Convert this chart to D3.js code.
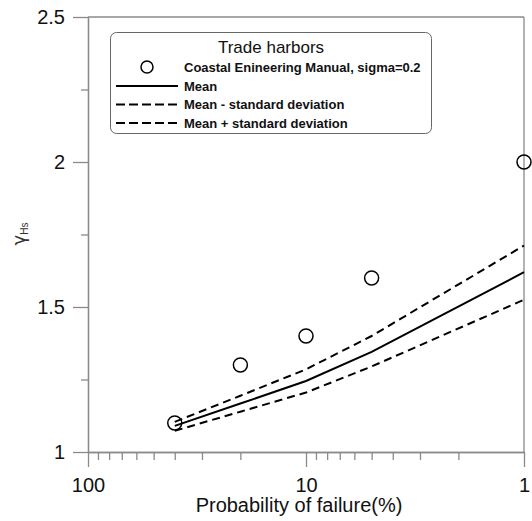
<!DOCTYPE html>
<html><head><meta charset="utf-8">
<script src="https://cdn.jsdelivr.net/npm/d3@7"></script>
<style>
body{margin:0;background:#fff;}
svg{display:block;font-family:"Liberation Sans",Arial,sans-serif;}
</style></head>
<body><svg id="c" width="532" height="521"></svg>
<script>
// Data
const manualProb = [40, 20, 10, 5, 1];
const manualVals = [1.1, 1.3, 1.4, 1.6, 2.0];
const lineProb = [40, 20, 10, 5, 1];
const meanVals = [1.09, 1.167, 1.245, 1.345, 1.62];
const lowerVals = [1.073, 1.139, 1.205, 1.295, 1.525];
const upperVals = [1.104, 1.194, 1.285, 1.40, 1.712];
const xMajor = [100, 10, 1];
const xMinor = [90, 80, 70, 60, 50, 40, 30, 20, 9, 8, 7, 6, 5, 4, 3, 2];
const yMajor = [1, 1.5, 2, 2.5];
const yMinor = [1.25, 1.75, 2.25];
const legendTitle = "Trade harbors";
const legendLabels = ["Coastal Enineering Manual, sigma=0.2", "Mean", "Mean - standard deviation", "Mean + standard deviation"];

const L = 88, R = 524, T = 17, B = 452;
const svg = d3.select("#c");
const x = d3.scaleLog().domain([100, 1]).range([L, R]);
const y = d3.scaleLinear().domain([1, 2.5]).range([B, T]);
const axisCol = "#8a8a8a";

// frame top & right
svg.append("line").attr("x1", L).attr("x2", R).attr("y1", T).attr("y2", T).attr("stroke", axisCol).attr("stroke-width", 1.3);
svg.append("line").attr("x1", R).attr("x2", R).attr("y1", T).attr("y2", B).attr("stroke", axisCol).attr("stroke-width", 1.3);

function styleAxis(g) {
  g.select(".domain").attr("stroke", axisCol).attr("stroke-width", 1.3);
  g.selectAll(".tick line").attr("stroke", axisCol).attr("stroke-width", 1.3);
  g.selectAll("text").attr("fill", "#111").style("font-size", "20px").style("font-family", '"Liberation Sans",Arial,sans-serif');
}

// y axis
const gy = svg.append("g").attr("transform", `translate(${L},0)`)
  .call(d3.axisLeft(y).tickValues(yMajor).tickSize(15).tickPadding(8).tickFormat(d3.format("")).tickSizeOuter(0));
styleAxis(gy);
const gy2 = svg.append("g").attr("transform", `translate(${L},0)`)
  .call(d3.axisLeft(y).tickValues(yMinor).tickSize(7).tickFormat("").tickSizeOuter(0));
styleAxis(gy2);

// x axis
const gx = svg.append("g").attr("transform", `translate(0,${B})`)
  .call(d3.axisBottom(x).tickValues(xMajor).tickSize(15).tickPadding(11).tickFormat(d3.format("")).tickSizeOuter(0));
styleAxis(gx);
const gx2 = svg.append("g").attr("transform", `translate(0,${B})`)
  .call(d3.axisBottom(x).tickValues(xMinor).tickSize(8).tickFormat("").tickSizeOuter(0));
styleAxis(gx2);

// axis titles
svg.append("text").attr("x", 299).attr("y", 512).attr("text-anchor", "middle")
  .style("font-size", "20px").attr("fill", "#111").text("Probability of failure(%)");
const yl = svg.append("text").attr("transform", "translate(25,234) rotate(-90)").attr("text-anchor", "middle").attr("fill", "#333");
yl.append("tspan").style("font-size", "18px").style("font-family", '"DejaVu Sans",sans-serif').text("γ");
yl.append("tspan").style("font-size", "10px").attr("dy", 3).text("Hs");

// lines
const line = d3.line().x(d => x(d[0])).y(d => y(d[1]));
const series = [
  {vals: meanVals, dash: null},
  {vals: lowerVals, dash: "8,5"},
  {vals: upperVals, dash: "8,5"}
];
series.forEach(s => {
  svg.append("path").datum(lineProb.map((p, i) => [p, s.vals[i]]))
    .attr("d", line).attr("fill", "none").attr("stroke", "#000")
    .attr("stroke-width", 2).attr("stroke-dasharray", s.dash);
});

// points
svg.selectAll("circle.pt").data(manualProb.map((p, i) => [p, manualVals[i]])).enter()
  .append("circle").attr("class", "pt").attr("cx", d => x(d[0])).attr("cy", d => y(d[1]))
  .attr("r", 7).attr("fill", "none").attr("stroke", "#000").attr("stroke-width", 1.5);

// legend
const lg = svg.append("g");
lg.append("rect").attr("x", 110.5).attr("y", 32.5).attr("width", 321).attr("height", 101)
  .attr("rx", 6).attr("fill", "#fff").attr("stroke", "#666").attr("stroke-width", 1);
lg.append("text").attr("x", 271).attr("y", 53).attr("text-anchor", "middle")
  .style("font-size", "17px").attr("fill", "#111").text(legendTitle);
const rows = [67, 86, 104.5, 123];
lg.append("circle").attr("cx", 147).attr("cy", rows[0]).attr("r", 6).attr("fill", "none").attr("stroke", "#000").attr("stroke-width", 1.5);
[null, "9,4", "9,4"].forEach((d, i) => {
  lg.append("line").attr("x1", 116).attr("x2", 178).attr("y1", rows[i + 1]).attr("y2", rows[i + 1])
    .attr("stroke", "#000").attr("stroke-width", 2).attr("stroke-dasharray", d);
});
legendLabels.forEach((t, i) => {
  lg.append("text").attr("x", 184).attr("y", rows[i]).attr("dy", "0.36em")
    .style("font-size", "13px").style("font-weight", "bold").attr("fill", "#111").text(t);
});
</script></body></html>
